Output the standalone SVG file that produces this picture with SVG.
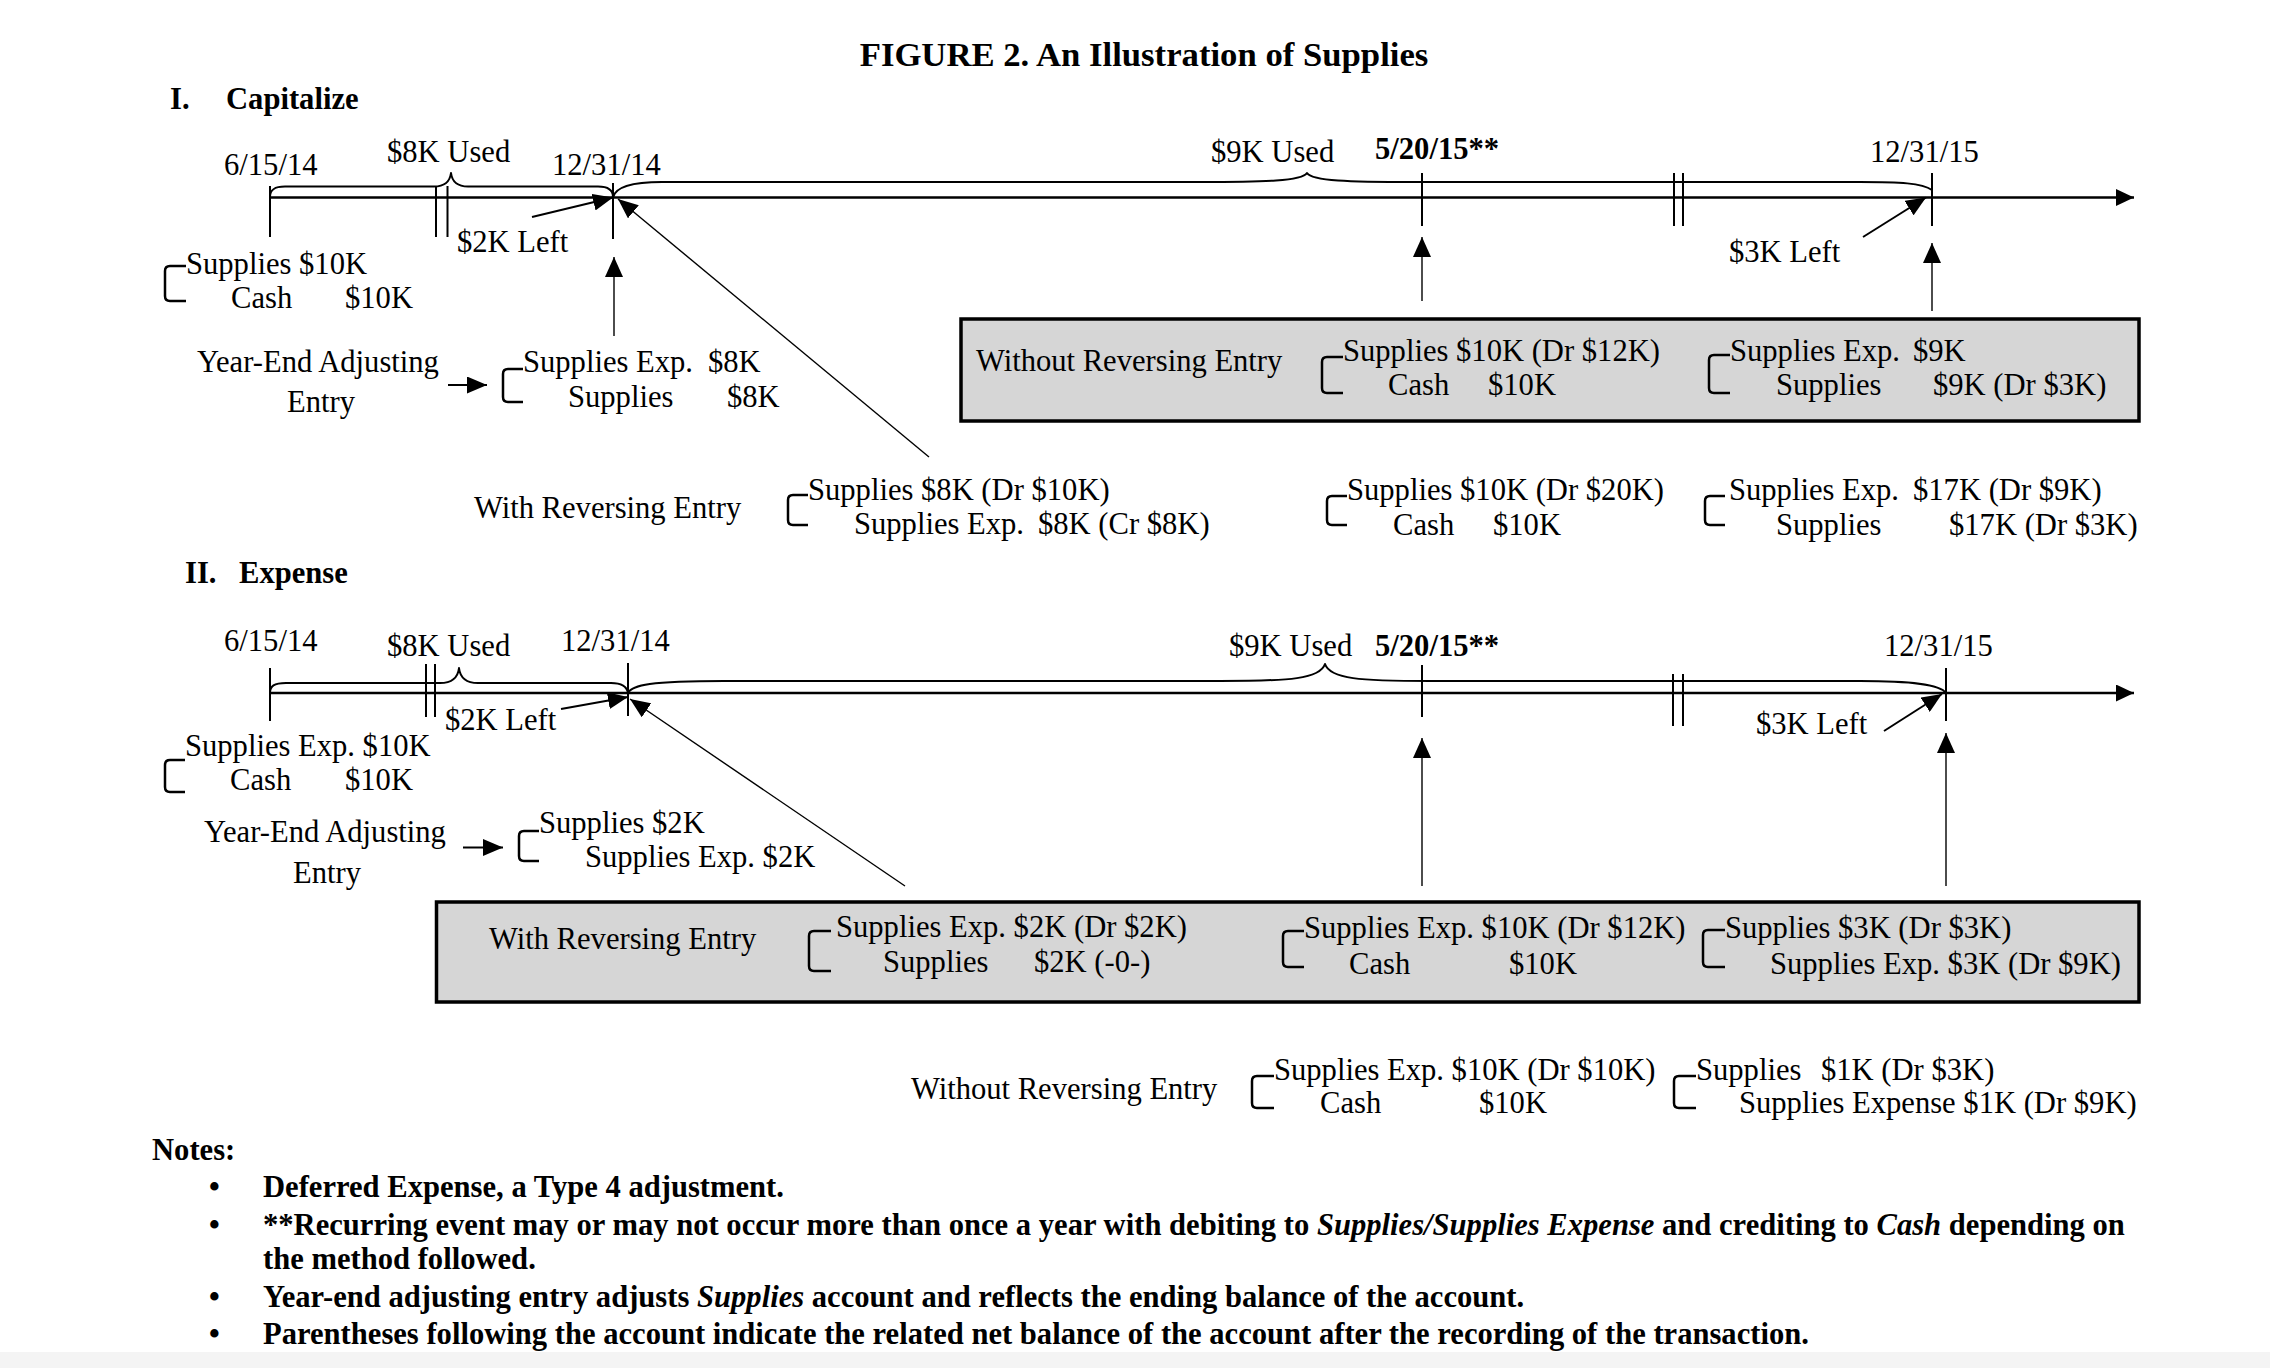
<svg xmlns="http://www.w3.org/2000/svg" width="2270" height="1368" viewBox="0 0 2270 1368">
<defs>
<style>
text{font-family:"Liberation Serif","Times New Roman",serif;font-size:30.6px;fill:#000}
.b{font-weight:bold}
.ttl{font-weight:bold;font-size:34.7px}
.i{font-style:italic}
.ln{fill:none;stroke:#000;stroke-width:2}
.tl{fill:none;stroke:#000;stroke-width:2.5}
.br{fill:none;stroke:#000;stroke-width:2;stroke-linejoin:round}
.bk{fill:none;stroke:#000;stroke-width:2.5;stroke-linejoin:round}
.thin{fill:none;stroke:#000;stroke-width:1.4}
.box{fill:#d6d6d6;stroke:#000;stroke-width:3.5}
</style>
<marker id="ah" markerUnits="userSpaceOnUse" markerWidth="20" markerHeight="18" refX="20" refY="9" orient="auto"><path d="M0,0 L20,9 L0,18 z" fill="#000"/></marker>
<marker id="ahs" markerUnits="userSpaceOnUse" markerWidth="20" markerHeight="17" refX="20" refY="8.5" orient="auto"><path d="M0,0 L20,8.5 L0,17 z" fill="#000"/></marker>
<marker id="aht" markerUnits="userSpaceOnUse" markerWidth="18" markerHeight="17" refX="18" refY="8.5" orient="auto"><path d="M0,0 L18,8.5 L0,17 z" fill="#000"/></marker>
</defs>
<rect x="0" y="0" width="2270" height="1368" fill="#fff"/>
<rect x="0" y="1352" width="2270" height="16" fill="#f4f4f4"/>

<g id="title"><text class="ttl" x="1144" y="66" text-anchor="middle">FIGURE 2. An Illustration of Supplies</text></g>

<!-- Section I -->
<g id="sec1-head"><text class="b" x="170" y="109">I.</text><text class="b" x="226" y="109">Capitalize</text></g>
<g id="sec1-timeline">
<path class="tl" d="M270,197.5 L2134,197.5" marker-end="url(#aht)"/>
<path class="ln" d="M270,186 V237 M436,186 V237 M447.5,186 V237 M613,183 V239 M1422,173 V226 M1674,173 V226 M1683,173 V226 M1932,173 V226"/>
<path class="br" d="M270,197 C270,190 274,186.5 285,186.5 L434,186.5 C446,186.5 450,181 451,173 C452,181 456,186.5 468,186.5 L598,186.5 C608,186.5 613,190 613,197"/>
<path class="br" d="M613,197.5 C615,188 628,182 662,182 L1200,182 C1265,182 1302,181 1307,173 C1312,181 1349,182 1414,182 L1860,182 C1900,182 1922,183 1932,190"/>
<text x="224" y="175">6/15/14</text>
<text x="387" y="162">$8K Used</text>
<text x="552" y="175">12/31/14</text>
<text x="1211" y="162">$9K Used</text>
<text class="b" x="1375" y="159">5/20/15**</text>
<text x="1870" y="162">12/31/15</text>
<text x="457" y="252">$2K Left</text>
<text x="1729" y="262">$3K Left</text>
</g>
<g id="sec1-purchase">
<path class="bk" d="M186,266 H170 Q165,266 165,271 V296 Q165,301 170,301 H186"/>
<text x="186" y="274">Supplies $10K</text>
<text x="231" y="308">Cash<tspan x="345">$10K</tspan></text>
</g>
<g id="sec1-adjust-label"><text x="197" y="372">Year-End Adjusting</text><text x="287" y="412">Entry</text></g>
<g id="sec1-adjust">
<path class="bk" d="M523,369 H508 Q503,369 503,374 V397 Q503,402 508,402 H523"/>
<text x="523" y="372">Supplies Exp.<tspan x="708">$8K</tspan></text>
<text x="568" y="407">Supplies<tspan x="727">$8K</tspan></text>
</g>
<g id="sec1-with-label"><text x="474" y="518">With Reversing Entry</text></g>
<g id="sec1-with">
<path class="bk" d="M808,495 H793 Q788,495 788,500 V520 Q788,525 793,525 H808"/>
<text x="808" y="500">Supplies $8K (Dr $10K)</text>
<text x="854" y="534">Supplies Exp.<tspan x="1038">$8K (Cr $8K)</tspan></text>
</g>
<g id="sec1-without-box">
<rect class="box" x="961" y="319" width="1178" height="102"/>
<text x="976" y="371">Without Reversing Entry</text>
<path class="bk" d="M1343,357 H1327 Q1322,357 1322,362 V388 Q1322,393 1327,393 H1343"/>
<text x="1343" y="361">Supplies $10K (Dr $12K)</text>
<text x="1388" y="395">Cash<tspan x="1488">$10K</tspan></text>
<path class="bk" d="M1730,355 H1714 Q1709,355 1709,360 V388 Q1709,393 1714,393 H1730"/>
<text x="1730" y="361">Supplies Exp.<tspan x="1913">$9K</tspan></text>
<text x="1776" y="395">Supplies<tspan x="1933">$9K (Dr $3K)</tspan></text>
</g>
<g id="sec1-with-2015">
<path class="bk" d="M1347,496 H1332 Q1327,496 1327,501 V520 Q1327,525 1332,525 H1347"/>
<text x="1347" y="500">Supplies $10K (Dr $20K)</text>
<text x="1393" y="535">Cash<tspan x="1493">$10K</tspan></text>
<path class="bk" d="M1725,496 H1710 Q1705,496 1705,501 V520 Q1705,525 1710,525 H1725"/>
<text x="1729" y="500">Supplies Exp.<tspan x="1913">$17K (Dr $9K)</tspan></text>
<text x="1776" y="535">Supplies<tspan x="1949">$17K (Dr $3K)</tspan></text>
</g>

<!-- Section II -->
<g id="sec2-head"><text class="b" x="185" y="583">II.</text><text class="b" x="239" y="583">Expense</text></g>
<g id="sec2-timeline">
<path class="tl" d="M270,693 L2134,693" marker-end="url(#aht)"/>
<path class="ln" d="M270,668 V721 M426,664 V717 M435,664 V717 M628,663 V716 M1422,665 V717 M1673,674 V726 M1683,674 V726 M1946,668 V721"/>
<path class="br" d="M270,693 C270,686 274,683 286,683 L440,683 C452,683 458,677 459,668 C460,677 466,683 478,683 L611,683 C622,683 627,687 628,693"/>
<path class="br" d="M628,693 C632,685 650,681 724,681 L1220,681 C1290,681 1320,679 1325,664 C1330,679 1360,681 1430,681 L1860,681 C1910,681 1940,684 1946,693"/>
<text x="224" y="651">6/15/14</text>
<text x="387" y="656">$8K Used</text>
<text x="561" y="651">12/31/14</text>
<text x="1229" y="656">$9K Used</text>
<text class="b" x="1375" y="656">5/20/15**</text>
<text x="1884" y="656">12/31/15</text>
<text x="445" y="730">$2K Left</text>
<text x="1756" y="734">$3K Left</text>
</g>
<g id="sec2-purchase">
<path class="bk" d="M185,760 H170 Q165,760 165,765 V787 Q165,792 170,792 H185"/>
<text x="185" y="756">Supplies Exp. $10K</text>
<text x="230" y="790">Cash<tspan x="345">$10K</tspan></text>
</g>
<g id="sec2-adjust-label"><text x="204" y="842">Year-End Adjusting</text><text x="293" y="883">Entry</text></g>
<g id="sec2-adjust">
<path class="bk" d="M539,831 H524 Q519,831 519,836 V856 Q519,861 524,861 H539"/>
<text x="539" y="833">Supplies $2K</text>
<text x="585" y="867">Supplies Exp. $2K</text>
</g>
<g id="sec2-with-box">
<rect class="box" x="436.5" y="902" width="1702.5" height="100"/>
<text x="489" y="949">With Reversing Entry</text>
<path class="bk" d="M831,931 H814 Q809,931 809,936 V966 Q809,971 814,971 H831"/>
<text x="836" y="937">Supplies Exp. $2K (Dr $2K)</text>
<text x="883" y="972">Supplies<tspan x="1034">$2K (-0-)</tspan></text>
<path class="bk" d="M1304,931 H1288 Q1283,931 1283,936 V962 Q1283,967 1288,967 H1304"/>
<text x="1304" y="938">Supplies Exp. $10K (Dr $12K)</text>
<text x="1349" y="974">Cash<tspan x="1509">$10K</tspan></text>
<path class="bk" d="M1725,930 H1708 Q1703,930 1703,935 V962 Q1703,967 1708,967 H1725"/>
<text x="1725" y="938">Supplies $3K (Dr $3K)</text>
<text x="1770" y="974">Supplies Exp. $3K (Dr $9K)</text>
</g>
<g id="sec2-without">
<text x="911" y="1099">Without Reversing Entry</text>
<path class="bk" d="M1274,1076 H1257 Q1252,1076 1252,1081 V1103 Q1252,1108 1257,1108 H1274"/>
<text x="1274" y="1080">Supplies Exp. $10K (Dr $10K)</text>
<text x="1320" y="1113">Cash<tspan x="1479">$10K</tspan></text>
<path class="bk" d="M1696,1076 H1679 Q1674,1076 1674,1081 V1103 Q1674,1108 1679,1108 H1696"/>
<text x="1696" y="1080">Supplies<tspan x="1821">$1K (Dr $3K)</tspan></text>
<text x="1739" y="1113">Supplies Expense $1K (Dr $9K)</text>
</g>

<!-- Connectors -->
<g id="connectors">
<path class="ln" d="M532,217 L613,197.5" marker-end="url(#ahs)"/>
<path class="thin" d="M929,457 L618,199" marker-end="url(#ahs)"/>
<path class="thin" d="M614,336 V257" marker-end="url(#ah)"/>
<path class="thin" d="M1422,301 V237" marker-end="url(#ah)"/>
<path class="thin" d="M1932,311 V243" marker-end="url(#ah)"/>
<path class="ln" d="M1863,237 L1926,197.5" marker-end="url(#ahs)"/>
<path class="ln" stroke-width="3" d="M448,385 L487,385" marker-end="url(#ahs)"/>
<path class="ln" d="M561,709 L628,697" marker-end="url(#ahs)"/>
<path class="thin" d="M905,886 L630,699" marker-end="url(#ahs)"/>
<path class="thin" d="M1422,886 V738" marker-end="url(#ah)"/>
<path class="thin" d="M1946,886 V733" marker-end="url(#ah)"/>
<path class="ln" d="M1884,731 L1942,694" marker-end="url(#ahs)"/>
<path class="ln" stroke-width="3" d="M463,847.5 L503,847.5" marker-end="url(#ahs)"/>
</g>

<!-- Notes -->
<g id="notes">
<text class="b" x="152" y="1160">Notes:</text>
<text class="b" x="209" y="1197">•</text>
<text class="b" x="263" y="1197">Deferred Expense, a Type 4 adjustment.</text>
<text class="b" x="209" y="1235">•</text>
<text class="b" x="263" y="1235">**Recurring event may or may not occur more than once a year with debiting to <tspan class="i">Supplies/Supplies Expense</tspan> and crediting to <tspan class="i">Cash</tspan> depending on</text>
<text class="b" x="263" y="1269">the method followed.</text>
<text class="b" x="209" y="1307">•</text>
<text class="b" x="263" y="1307">Year-end adjusting entry adjusts <tspan class="i">Supplies</tspan> account and reflects the ending balance of the account.</text>
<text class="b" x="209" y="1344">•</text>
<text class="b" x="263" y="1344">Parentheses following the account indicate the related net balance of the account after the recording of the transaction.</text>
</g>
</svg>
